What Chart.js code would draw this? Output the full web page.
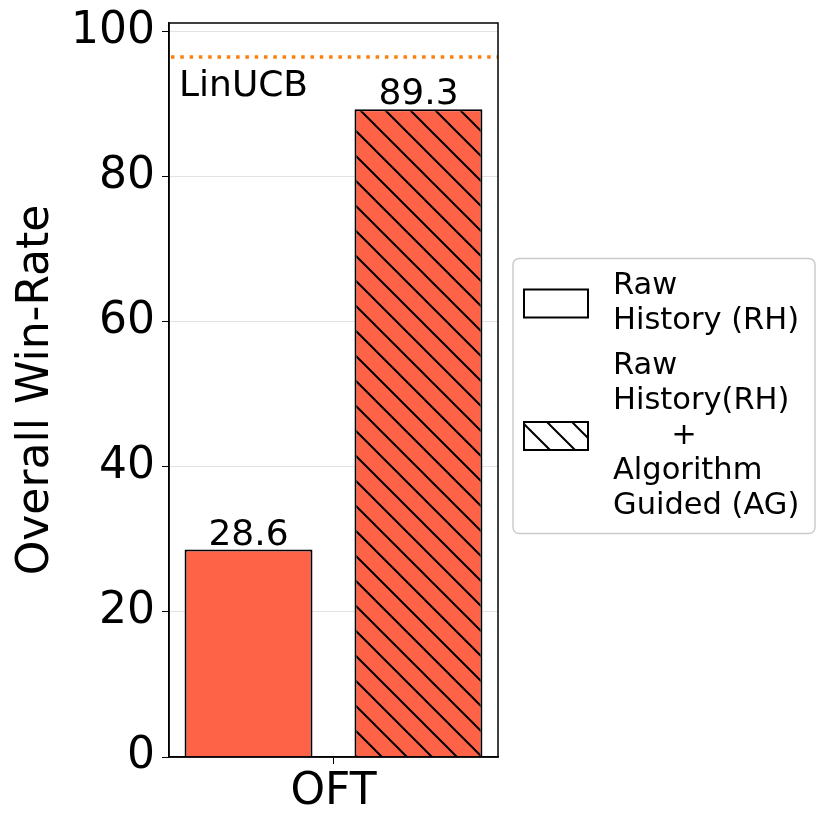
<!DOCTYPE html>
<html>
<head>
<meta charset="utf-8">
<script src="https://cdn.jsdelivr.net/npm/chart.js@4"></script>
<style>
  html, body { margin: 0; padding: 0; background: #fff; }
  #wrap { width: 830px; height: 831px; }
</style>
</head>
<body>
<div id="wrap"><canvas id="winChart" width="830" height="831"></canvas></div>
<script>
// data
const categories = ['OFT'];
const seriesLabels = [
    ['Raw', 'History (RH)'],
    ['Raw', 'History(RH)', '      +', 'Algorithm', 'Guided (AG)']
];
const rhValues = [28.6];
const rhAgValues = [89.3];
const yTicks = [0, 20, 40, 60, 80, 100];
const yMax = 101.2;
const linucbValue = 96.5;
const linucbLabel = 'LinUCB';

const FONT = "'DejaVu Sans', sans-serif";
const tomato = '#ff6347';

// hatch pattern "\\"
function makeHatch(bg) {
    const c = document.createElement('canvas');
    c.width = 25; c.height = 25;
    const g = c.getContext('2d');
    g.fillStyle = bg;
    g.fillRect(0, 0, 25, 25);
    g.strokeStyle = '#000';
    g.lineWidth = 2;
    g.beginPath();
    g.moveTo(-5, -5); g.lineTo(30, 30);
    g.moveTo(-5, 20); g.lineTo(5, 30);
    g.moveTo(20, -5); g.lineTo(30, 5);
    g.stroke();
    return c;
}

const ctx = document.getElementById('winChart').getContext('2d');
const hatchBar = ctx.createPattern(makeHatch(tomato), 'repeat');
const hatchSwatch = ctx.createPattern(makeHatch('#fff'), 'repeat');

// frame, reference line, value labels and the legend
const extras = {
    id: 'extras',
    beforeDatasetsDraw(chart) {
        const { ctx, chartArea: a, scales } = chart;
        const y = scales.y.getPixelForValue(linucbValue);
        ctx.save();
        ctx.strokeStyle = '#ff7f0e';
        ctx.lineWidth = 3.5;
        ctx.setLineDash([3.5, 5.8]);
        ctx.beginPath();
        ctx.moveTo(a.left + 2, y);
        ctx.lineTo(a.right, y);
        ctx.stroke();
        ctx.setLineDash([]);
        ctx.fillStyle = '#000';
        ctx.font = '36px ' + FONT;
        ctx.textBaseline = 'alphabetic';
        ctx.textAlign = 'left';
        ctx.fillText(linucbLabel, a.left + 10, y + 39);
        ctx.restore();
    },
    afterDraw(chart) {
        const { ctx, chartArea: a } = chart;
        ctx.save();
        // spines
        ctx.strokeStyle = '#000';
        ctx.lineWidth = 1.5;
        ctx.strokeRect(a.left, a.top, a.right - a.left, a.bottom - a.top);

        // bar value labels
        ctx.fillStyle = '#000';
        ctx.font = '36px ' + FONT;
        ctx.textAlign = 'center';
        ctx.textBaseline = 'alphabetic';
        chart.data.datasets.forEach((ds, i) => {
            chart.getDatasetMeta(i).data.forEach((bar, j) => {
                ctx.fillText(ds.data[j].toFixed(1), bar.x, bar.y - 5);
            });
        });

        // legend box
        const lineH = 35, pad = 10, gap = 10;
        const items = chart.data.datasets.map(ds => ds.label);
        let h = pad * 2 + gap * (items.length - 1);
        items.forEach(l => { h += l.length * lineH; });
        const bx = a.right + 15, bw = 302;
        const by = (a.top + a.bottom) / 2 + 6 - h / 2;
        ctx.beginPath();
        ctx.roundRect(bx, by, bw, h, 6);
        ctx.fillStyle = '#fff';
        ctx.fill();
        ctx.strokeStyle = '#cccccc';
        ctx.lineWidth = 1.5;
        ctx.stroke();

        let top = by + pad;
        ctx.font = '30.5px ' + FONT;
        ctx.textAlign = 'left';
        ctx.textBaseline = 'middle';
        items.forEach((lines, i) => {
            const blockH = lines.length * lineH;
            const cy = top + blockH / 2;
            ctx.fillStyle = i === 0 ? '#fff' : hatchSwatch;
            ctx.fillRect(bx + 11, cy - 14, 64, 28);
            ctx.strokeStyle = '#000';
            ctx.lineWidth = 2;
            ctx.strokeRect(bx + 11, cy - 14, 64, 28);
            ctx.fillStyle = '#000';
            lines.forEach((t, k) => {
                ctx.fillText(t, bx + 100, top + lineH / 2 + k * lineH);
            });
            top += blockH + gap;
        });
        ctx.restore();
    }
};

new Chart(ctx, {
    type: 'bar',
    data: {
        labels: categories,
        datasets: [
            {
                label: seriesLabels[0],
                data: rhValues,
                backgroundColor: tomato,
                borderColor: '#000',
                borderWidth: 2,
                barPercentage: 0.753,
                categoryPercentage: 1.033
            },
            {
                label: seriesLabels[1],
                data: rhAgValues,
                backgroundColor: hatchBar,
                borderColor: '#000',
                borderWidth: 2,
                barPercentage: 0.753,
                categoryPercentage: 1.033
            }
        ]
    },
    options: {
        responsive: false,
        animation: false,
        layout: { padding: { top: 23, right: 332, left: 0, bottom: 0 } },
        plugins: {
            legend: { display: false },
            tooltip: { enabled: false }
        },
        scales: {
            x: {
                grid: {
                    drawOnChartArea: false,
                    offset: false,
                    tickLength: 7,
                    tickColor: '#000'
                },
                border: { color: '#000', width: 1.5 },
                ticks: {
                    color: '#000',
                    font: { family: FONT, size: 44 },
                    padding: 2
                },
                afterFit(scale) { scale.height = 74; }
            },
            y: {
                min: 0,
                max: yMax,
                afterBuildTicks(scale) {
                    scale.ticks = yTicks.map(v => ({ value: v }));
                },
                grid: {
                    color: '#e2e2e2',
                    lineWidth: 1,
                    tickLength: 7,
                    tickColor: '#000'
                },
                border: { color: '#000', width: 1.5 },
                ticks: {
                    color: '#000',
                    font: { family: FONT, size: 44 },
                    padding: 7
                },
                title: {
                    display: true,
                    text: 'Overall Win-Rate',
                    color: '#000',
                    font: { family: FONT, size: 44 },
                    padding: { top: 10, bottom: 0 }
                },
                afterFit(scale) {
                    scale.width = 169;
                    scale.paddingTop = 0;
                    scale.paddingBottom = 0;
                }
            }
        }
    },
    plugins: [extras]
});
</script>
</body>
</html>
